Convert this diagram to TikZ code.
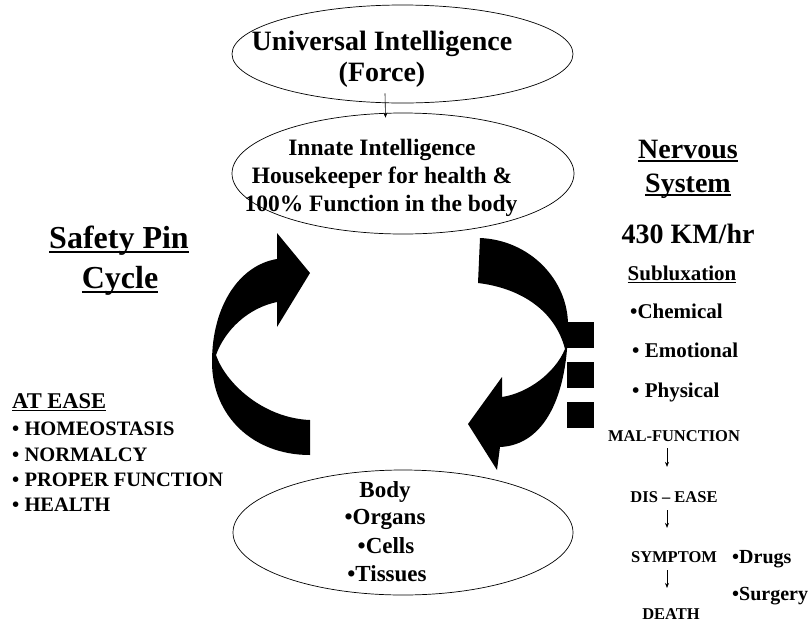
\documentclass[tikz,border=0pt]{standalone}
\usepackage{fontspec}
\setmainfont{Liberation Serif}
\usetikzlibrary{arrows.meta,shapes.geometric,calc}
\newsavebox\ulbox
\newcommand\myul[1]{\sbox\ulbox{#1}\rlap{\rule[-0.15em]{\wd\ulbox}{0.065em}}\usebox\ulbox}
\newcommand\fsz[1]{\fontsize{#1}{#1}\selectfont}
\begin{document}
\begin{tikzpicture}[x=1pt,y=-1pt,
  ell/.style={draw, ellipse, inner sep=0pt, line width=0.7pt},
  txt/.style={inner sep=0pt, anchor=base, font=\bfseries},
  ltxt/.style={inner sep=0pt, anchor=base west, font=\bfseries},
  conn/.style={line width=0.6pt, -{Stealth[length=5pt,width=4pt]}}]
\useasboundingbox (0,0) rectangle (811,622);
% ellipses
\node[ell, minimum width=341pt, minimum height=98pt] (u) at (402.5,54) {};
\node[ell, minimum width=342pt, minimum height=121pt] (i) at (403,173.5) {};
\node[ell, minimum width=340pt, minimum height=125pt] (b) at (403,532.5) {};
\draw[conn] ($(u.south)+(-17.5,-10)$) -- ($(i.north)+(-17.5,5)$);
% ellipse texts
\node[txt] (u1) at (382,50) {\fsz{28}Universal Intelligence};
\node[txt] (u2) at (382,81) {\fsz{28}(Force)};
\node[txt] (i1) at (382,155) {\fsz{23.5}Innate Intelligence};
\node[txt] (i2) at (382,183) {\fsz{23.5}Housekeeper for health \&};
\node[txt] (i3) at (381,211) {\fsz{23.5}100\% Function in the body};
\node[txt] (b1) at (385,497) {\fsz{23}Body};
\node[txt] (b2) at (385,524) {\fsz{23}•Organs};
\node[txt] (b3) at (386,553) {\fsz{23}•Cells};
\node[txt] (b4) at (387,581) {\fsz{23}•Tissues};
% curved arrows
\fill (310,455) .. controls (252,455) and (212,415) .. (212,362)
  .. controls (212,305) and (240,265) .. (277,259)
  -- (277,233) -- (310,273) -- (277,327) -- (277,302)
  .. controls (248,308) and (225,330) .. (216,355)
  .. controls (225,382) and (262,418) .. (310,420) -- cycle;
\fill (480,238) .. controls (530,240) and (568,280) .. (568,325)
  .. controls (568,395) and (545,445) .. (500,447)
  -- (497,470) -- (468,424) -- (502,377) -- (502,397)
  .. controls (528,393) and (555,373) .. (565,349)
  .. controls (555,310) and (520,288) .. (478,283) -- cycle;
\fill (567,322) rectangle (594,348);
\fill (567,362) rectangle (594,388);
\fill (567,402) rectangle (594,428);
% left labels
\node[txt] (s1) at (119,248) {\fsz{32}\myul{Safety Pin}};
\node[txt] (s2) at (120,288) {\fsz{32}\myul{Cycle}};
\node[ltxt] (at) at (12,408) {\fsz{22.5}\myul{AT EASE}};
\node[ltxt] (h1) at (12,435) {\fsz{20.5}• HOMEOSTASIS};
\node[ltxt] (h2) at (12,461) {\fsz{20.5}• NORMALCY};
\node[ltxt] (h3) at (12,486) {\fsz{20.5}• PROPER FUNCTION};
\node[ltxt] (h4) at (12,511) {\fsz{20.5}• HEALTH};
% right labels
\node[txt] (n1) at (688,158) {\fsz{28}\myul{Nervous}};
\node[txt] (n2) at (688,192) {\fsz{28}\myul{System}};
\node[txt] (sp) at (688,243) {\fsz{28}430 KM/hr};
\node[txt] (sub) at (682,280) {\fsz{21}\myul{Subluxation}};
\node[ltxt] (c1) at (630,318) {\fsz{21}•Chemical};
\node[ltxt] (c2) at (632,357) {\fsz{21}• Emotional};
\node[ltxt] (c3) at (632,397) {\fsz{21}• Physical};
\node[txt] (mal) at (674,441) {\fsz{16.5}MAL-FUNCTION};
\node[txt] (dis) at (674,502) {\fsz{16.5}DIS – EASE};
\node[txt] (sym) at (674,562) {\fsz{16.5}SYMPTOM};
\node[txt] (dth) at (671,619) {\fsz{16.5}DEATH};
\node[ltxt] (dr) at (732,563) {\fsz{20}•Drugs};
\node[ltxt] (su) at (732,600) {\fsz{20}•Surgery};
\draw[conn, shorten <=7pt, shorten >=24pt] ([xshift=-7pt]mal.south) -- ([xshift=-7pt]dis.north);
\draw[conn, shorten <=8pt, shorten >=23pt] ([xshift=-7pt]dis.south) -- ([xshift=-7pt]sym.north);
\draw[conn, shorten <=8pt, shorten >=20pt] ([xshift=-7pt]sym.south) -- ([xshift=-4pt]dth.north);
\end{tikzpicture}
\end{document}
